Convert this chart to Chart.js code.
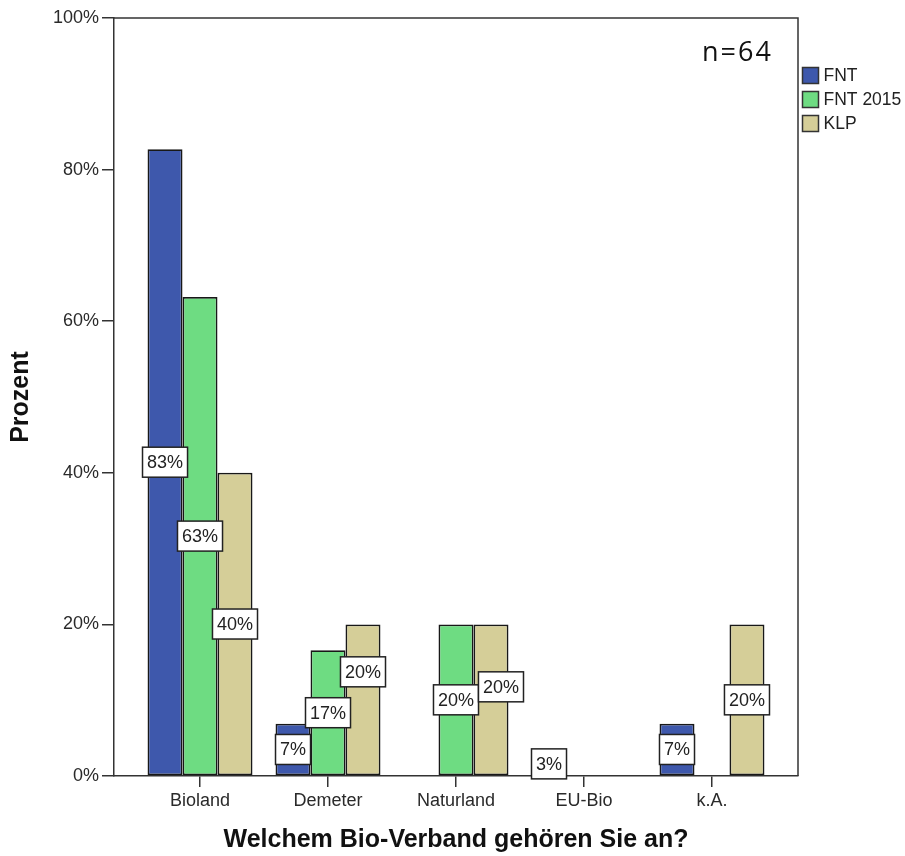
<!DOCTYPE html>
<html><head><meta charset="utf-8">
<script src="https://cdn.jsdelivr.net/npm/chart.js@4"></script>
<style>html,body{margin:0;padding:0;background:#fff;}</style>
</head><body>
<canvas id="c" width="905" height="856"></canvas>
<script>
const categories = ['Bioland', 'Demeter', 'Naturland', 'EU-Bio', 'k.A.'];
const seriesNames = ['FNT', 'FNT 2015', 'KLP'];
const fntValues = [82.7, 6.9, null, 3.1, 6.9];
const fnt2015Values = [63.2, 16.6, 20.0, null, null];
const klpValues = [40.0, 20.0, 20.0, null, 20.0];
const yTickValues = [0, 20, 40, 60, 80, 100];
const sampleNote = 'n=64';
const xTitle = 'Welchem Bio-Verband gehören Sie an?';
const yTitle = 'Prozent';

const colors = ['#3E58AC', '#6EDC82', '#D5CE98'];
const FONT = 'Arial, "Liberation Sans", sans-serif';
const AXIS = '#333333';

function toPoints(arr) { return arr.map((v, i) => ({ x: i, y: v })); }
const seriesValues = [fntValues, fnt2015Values, klpValues];

const frameAndNotes = {
  id: 'frameAndNotes',
  afterDraw(chart) {
    const ctx = chart.ctx, ca = chart.chartArea;
    ctx.save();
    ctx.strokeStyle = AXIS; ctx.lineWidth = 1.5;
    ctx.beginPath();
    ctx.moveTo(ca.left, ca.top); ctx.lineTo(ca.right, ca.top); ctx.lineTo(ca.right, ca.bottom);
    ctx.stroke();
    // sample size note
    ctx.fillStyle = '#111';
    ctx.font = '27px "Open Sans", sans-serif';
    ctx.letterSpacing = '2px';
    ctx.textAlign = 'left'; ctx.textBaseline = 'alphabetic';
    ctx.fillText(sampleNote, ca.right - 96, ca.top + 43);
    ctx.letterSpacing = '0px';
    // legend
    ctx.font = '17.5px ' + FONT;
    ctx.textBaseline = 'middle';
    chart.data.datasets.forEach((ds, i) => {
      const bx = ca.right + 4.5, by = ca.top + 49.5 + i * 24;
      ctx.fillStyle = ds.backgroundColor;
      ctx.fillRect(bx, by, 16, 16);
      ctx.strokeStyle = '#333'; ctx.lineWidth = 1.5;
      ctx.strokeRect(bx, by, 16, 16);
      ctx.fillStyle = '#222';
      ctx.fillText(ds.label, bx + 21, by + 9);
    });
    ctx.restore();
  }
};

const barLabels = {
  id: 'barLabels',
  afterDatasetsDraw(chart, args, opts) {
    const ctx = chart.ctx;
    ctx.save();
    ctx.font = '18px ' + FONT;
    ctx.textAlign = 'center'; ctx.textBaseline = 'middle';
    chart.data.datasets.forEach((ds, di) => {
      const meta = chart.getDatasetMeta(di);
      meta.data.forEach((el, i) => {
        const v = ds.data[i].y;
        if (v === null || v === undefined) return;
        const txt = Math.round(v) + '%';
        const nudge = (opts.nudges || {})[di + ':' + i] || [0, 0];
        const cx = el.x + nudge[0];
        const cy = (el.y + el.base) / 2 + nudge[1];
        const w = ctx.measureText(txt).width + 9, h = 30;
        ctx.fillStyle = '#fff';
        ctx.fillRect(cx - w / 2, cy - h / 2, w, h);
        ctx.strokeStyle = '#222'; ctx.lineWidth = 1.5;
        ctx.strokeRect(cx - w / 2, cy - h / 2, w, h);
        ctx.fillStyle = '#222';
        ctx.fillText(txt, cx, cy + 1);
      });
    });
    ctx.restore();
  }
};

new Chart(document.getElementById('c'), {
  type: 'bar',
  data: {
    datasets: seriesNames.map((name, i) => ({
      label: name,
      data: toPoints(seriesValues[i]),
      backgroundColor: colors[i],
      borderColor: '#181818',
      borderWidth: 1.8,
      borderSkipped: false,
      categoryPercentage: 0.82,
      barPercentage: 1.0
    }))
  },
  options: {
    responsive: false,
    animation: false,
    devicePixelRatio: 1,
    layout: { padding: { top: 18, right: 107, bottom: 0, left: 0 } },
    plugins: {
      legend: { display: false },
      tooltip: { enabled: false },
      barLabels: { nudges: { '2:1': [0, -28], '2:2': [10, -13] } }
    },
    scales: {
      x: {
        type: 'linear',
        min: -0.672, max: 4.672,
        offset: false,
        afterBuildTicks(scale) { scale.ticks = categories.map((c, i) => ({ value: i })); },
        afterFit(scale) { scale.height = 80; },
        ticks: {
          autoSkip: false, maxRotation: 0, padding: 3,
          color: '#2a2a2a', font: { family: FONT, size: 18 },
          callback: (v) => categories[v]
        },
        grid: { display: true, offset: false, drawOnChartArea: false, drawTicks: true, tickLength: 11, color: AXIS, lineWidth: 1.5 },
        border: { display: true, color: AXIS, width: 1.5 },
        title: {
          display: true, text: xTitle, color: '#111',
          font: { family: FONT, size: 25, weight: 'bold' },
          padding: { top: 0, bottom: 1 }
        }
      },
      y: {
        min: 0, max: 100,
        afterBuildTicks(scale) { scale.ticks = yTickValues.map(v => ({ value: v })); },
        afterFit(scale) { scale.width = 114; },
        ticks: {
          padding: 3, color: '#2a2a2a', font: { family: FONT, size: 18 },
          callback: (v) => v + '%'
        },
        grid: { display: true, drawOnChartArea: false, drawTicks: true, tickLength: 12, color: AXIS, lineWidth: 1.5 },
        border: { display: true, color: AXIS, width: 1.5 },
        title: {
          display: true, text: yTitle, color: '#111',
          font: { family: FONT, size: 25, weight: 'bold' },
          padding: { top: 6, bottom: 0 }
        }
      }
    }
  },
  plugins: [barLabels, frameAndNotes]
});
</script>
</body></html>
